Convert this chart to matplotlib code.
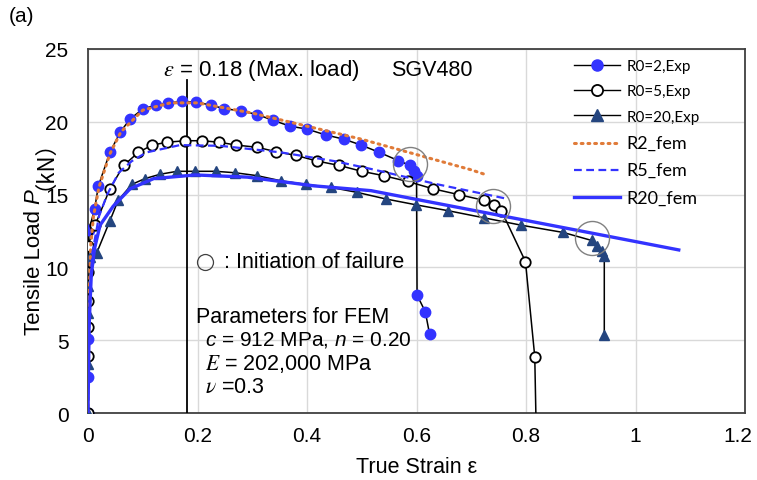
import matplotlib
matplotlib.use("Agg")
import matplotlib.pyplot as plt
from matplotlib.lines import Line2D
from matplotlib.transforms import ScaledTranslation

plt.rcParams['font.family'] = ['Liberation Sans', 'Noto Sans CJK JP', 'DejaVu Sans']
plt.rcParams['mathtext.fontset'] = 'custom'
plt.rcParams['mathtext.rm'] = 'Liberation Sans'
plt.rcParams['mathtext.it'] = 'Liberation Sans:italic'

# ---------------- data ----------------
r2_x = [0, 0, 0, 0, 0.002, 0.012, 0.019, 0.040, 0.059, 0.077, 0.101, 0.125, 0.147, 0.172,
        0.198, 0.224, 0.249, 0.280, 0.309, 0.338, 0.369, 0.400, 0.434, 0.468, 0.499, 0.532,
        0.567, 0.589, 0.596, 0.600, 0.601, 0.616, 0.624]
r2_y = [0, 2.5, 5.1, 10.4, 12.6, 14.0, 15.6, 17.9, 19.3, 20.2, 20.9, 21.15, 21.3, 21.4,
        21.35, 21.15, 20.9, 20.75, 20.5, 20.1, 19.7, 19.5, 19.1, 18.8, 18.4, 17.9,
        17.33, 17.0, 16.65, 16.3, 8.1, 6.96, 5.4]

r5_x = [0, 0, 0, 0, 0, 0, 0.013, 0.040, 0.065, 0.092, 0.117, 0.145, 0.178, 0.208, 0.239,
        0.271, 0.309, 0.343, 0.379, 0.419, 0.459, 0.500, 0.540, 0.584, 0.630, 0.677, 0.724,
        0.741, 0.755, 0.799, 0.816, 0.818]
r5_y = [0, 3.94, 5.9, 7.7, 9.66, 11.5, 12.9, 15.4, 17.0, 17.9, 18.4, 18.6, 18.7, 18.7, 18.6,
        18.4, 18.25, 17.95, 17.7, 17.3, 17.0, 16.6, 16.3, 15.9, 15.4, 15.0, 14.6,
        14.3, 13.9, 10.4, 3.87, 0]

r20_x = [0, 0, 0, 0, 0.004, 0.016, 0.040, 0.055, 0.080, 0.104, 0.132, 0.163, 0.196, 0.233,
         0.269, 0.309, 0.352, 0.398, 0.443, 0.492, 0.544, 0.599, 0.657, 0.724, 0.791, 0.868,
         0.920, 0.929, 0.938, 0.943, 0.943]
r20_y = [0, 3.37, 6.9, 8.75, 10.7, 11.0, 13.2, 14.6, 15.7, 16.1, 16.4, 16.6, 16.6, 16.6,
         16.5, 16.3, 15.95, 15.7, 15.5, 15.15, 14.7, 14.3, 13.9, 13.4, 12.9, 12.4,
         11.85, 11.5, 11.15, 10.8, 5.36]

fem2_x = [0, 0.002, 0.005, 0.01, 0.02, 0.04, 0.06, 0.10, 0.15, 0.20, 0.30, 0.40, 0.50, 0.60, 0.70, 0.728]
fem2_y = [0, 8, 11.5, 13.5, 15.5, 17.8, 19.3, 20.8, 21.3, 21.3, 20.6, 19.7, 18.8, 17.75, 16.7, 16.35]

fem5_x = [0, 0.003, 0.008, 0.02, 0.035, 0.056, 0.08, 0.107, 0.168, 0.242, 0.352, 0.45, 0.517, 0.639, 0.767]
fem5_y = [0, 8, 11, 13.5, 15.0, 16.5, 17.3, 17.9, 18.4, 18.35, 17.9, 17.3, 16.76, 15.7, 14.7]

fem20_x = [0, 0.002, 0.006, 0.012, 0.022, 0.046, 0.077, 0.120, 0.196, 0.291, 0.413, 0.517, 0.755, 0.914, 1.079]
fem20_y = [0, 6, 9.5, 11.3, 12.9, 14.2, 15.4, 16.1, 16.35, 16.2, 15.6, 15.27, 13.55, 12.4, 11.2]

fail_x = [0.589, 0.740, 0.921]
fail_y = [17.1, 14.24, 12.0]

max_load_strain = 0.18
xticks = [0, 0.2, 0.4, 0.6, 0.8, 1.0, 1.2]
xtick_labels = ['0', '0.2', '0.4', '0.6', '0.8', '1', '1.2']
yticks = [0, 5, 10, 15, 20, 25]
legend_labels = ['R0=2,Exp', 'R0=5,Exp', 'R0=20,Exp', 'R2_fem', 'R5_fem', 'R20_fem']

BLUE = '#3333FF'
NAVY = '#24457F'
ORANGE = '#E07B39'

fig = plt.figure(figsize=(7.57, 4.81), dpi=100)
ax = fig.add_axes([88/757, 1-414/481, (745-88)/757, (414-50)/481])

ax.set_xlim(0, 1.2)
ax.set_ylim(0, 25)
ax.set_xticks(xticks)
ax.set_xticklabels(xtick_labels)
ax.set_yticks(yticks)
ax.grid(True, color='#d9d9d9', lw=1.0)
ax.set_axisbelow(True)
ax.tick_params(length=0, labelsize=15)
ax.tick_params(axis='x', pad=9)
ax.tick_params(axis='y', pad=14)
for s in ax.spines.values():
    s.set_color('#404040')
    s.set_linewidth(1.3)
lastlab = ax.get_xticklabels()[-1]
lastlab.set_transform(lastlab.get_transform() + ScaledTranslation(-5/72, 0, fig.dpi_scale_trans))

# experiment series
ax.plot(r2_x, r2_y, color='black', lw=1.1, marker='o', ms=7.5, mfc=BLUE, mec=BLUE, zorder=4)
ax.plot(r5_x, r5_y, color='black', lw=1.1, zorder=4)
ax.plot(r5_x[:-1], r5_y[:-1], ls='none', marker='o', ms=7.5, mfc='white', mec='black', mew=1.3, zorder=4)
ax.plot(r20_x, r20_y, color='black', lw=1.1, marker='^', ms=7.5, mfc=NAVY, mec=NAVY, zorder=4)

# fem series
ax.plot(fem2_x, fem2_y, color=ORANGE, lw=2.2, ls=(0, (0.6, 1.6)), dash_capstyle='round', zorder=5)
ax.plot(fem5_x, fem5_y, color=BLUE, lw=1.6, ls=(0, (3.5, 2)), zorder=5)
ax.plot(fem20_x, fem20_y, color=BLUE, lw=2.4, zorder=5)

# failure circles
ax.plot(fail_x, fail_y, ls='none', marker='o', ms=24.5, mfc='none', mec='#808080', mew=1.0, zorder=6)

# max load line
ax.plot([max_load_strain, max_load_strain], [0, 22.9], color='black', lw=1.3, zorder=3)

# texts
FS = 15.5
ax.text(0.137, 23.6, r'$\varepsilon$ = 0.18 (Max. load)', fontsize=16, math_fontfamily='stix', va='center', ha='left')
ax.text(0.553, 23.6, 'SGV480', fontsize=FS, va='center', ha='left')
ax.plot([0.214], [10.4], ls='none', marker='o', ms=11.5, mfc='none', mec='#404040', mew=0.9)
ax.text(0.248, 10.4, ': Initiation of failure', fontsize=FS, va='center', ha='left')
ax.text(0.198, 6.66, 'Parameters for FEM', fontsize=FS, va='center', ha='left')
ax.text(0.213, 5.05, r'$c$ = 912 MPa, $n$ = 0.20', fontsize=15, va='center', ha='left')
ax.text(0.213, 3.45, r'$E$ = 202,000 MPa', fontsize=FS, math_fontfamily='stix', va='center', ha='left')
ax.text(0.213, 1.85, r'$\nu$ =0.3', fontsize=FS, math_fontfamily='stix', va='center', ha='left')

ax.set_xlabel('True Strain ε', fontsize=15.5, labelpad=8)
fig.text(9/757, 1-17/481, '(a)', fontsize=15, va='center', ha='left')

# y label built from pieces (italic P, full-width parentheses), baseline-aligned
renderer = fig.canvas.get_renderer()
pieces = [('Tensile Load', {}), ('P', {'style': 'italic'}), ('（kN）', {'family': ['Noto Sans CJK JP']})]
gaps = [6, 0, 0]
texts = []
for s, kw in pieces:
    t = fig.text(0, 0, s, fontsize=16, rotation=90, rotation_mode='anchor',
                 ha='left', va='baseline', **kw)
    texts.append(t)
lengths = [t.get_window_extent(renderer).height for t in texts]
total = sum(lengths) + sum(gaps)
y = (481 - 226) - total / 2
xb = 39.5
for t, L, g in zip(texts, lengths, gaps):
    t.set_position((xb / 757, y / 481))
    y += L + g

# legend
handles = [
    Line2D([], [], color='black', lw=1.0, marker='o', ms=8, mfc=BLUE, mec=BLUE),
    Line2D([], [], color='black', lw=1.0, marker='o', ms=8, mfc='white', mec='black', mew=1.3),
    Line2D([], [], color='black', lw=1.0, marker='^', ms=8, mfc=NAVY, mec=NAVY),
    Line2D([], [], color=ORANGE, lw=2.2, ls=(0, (0.6, 1.6)), dash_capstyle='round'),
    Line2D([], [], color=BLUE, lw=1.6, ls=(0, (3.5, 2))),
    Line2D([], [], color=BLUE, lw=2.4),
]
leg = ax.legend(handles, legend_labels, loc='upper left', bbox_to_anchor=(0.725, 1.0),
                frameon=False, prop={'family': 'Lato', 'size': 11},
                handlelength=3.0, handletextpad=0.4, labelspacing=0.74, borderaxespad=0.25)
for t in leg.get_texts()[3:]:
    t.set_fontsize(13)

fig.savefig('out.png', dpi=100)
